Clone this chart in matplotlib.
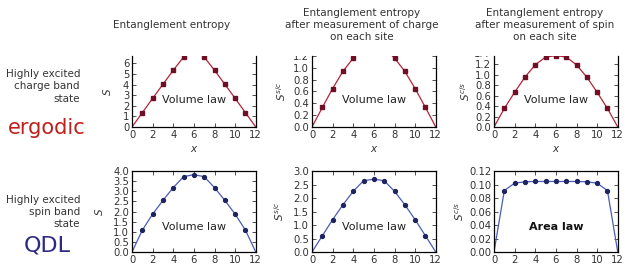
import matplotlib.pyplot as plt
import matplotlib.transforms as mtransforms
import numpy as np

# site positions
x = np.arange(13)

# top row: highly excited charge band state (ergodic)
s_charge = [0, 1.35, 2.7, 4.03, 5.35, 6.6, 7.8, 6.6, 5.35, 4.03, 2.7, 1.35, 0]
ssc_charge = [0, 0.33, 0.65, 0.94, 1.165, 1.33, 1.38, 1.33, 1.165, 0.94, 0.65, 0.33, 0]
scs_charge = [0, 0.355, 0.665, 0.955, 1.19, 1.34, 1.365, 1.34, 1.19, 0.955, 0.665, 0.355, 0]

# bottom row: highly excited spin band state (QDL)
s_spin = [0, 1.08, 1.87, 2.55, 3.18, 3.72, 3.82, 3.72, 3.18, 2.55, 1.87, 1.08, 0]
ssc_spin = [0, 0.60, 1.20, 1.75, 2.25, 2.64, 2.70, 2.64, 2.25, 1.75, 1.20, 0.60, 0]
scs_spin = [0, 0.091, 0.102, 0.104, 0.1045, 0.1045, 0.1045, 0.1045, 0.1045, 0.104, 0.102, 0.091, 0]

col_titles = ["Entanglement entropy",
              "Entanglement entropy\nafter measurement of charge\non each site",
              "Entanglement entropy\nafter measurement of spin\non each site"]
ylabels = [r"$S$", r"$S^{s/c}$", r"$S^{c/s}$"]

red_line, red_mark = "#b5243a", "#6e0f25"
blue_line, blue_mark = "#4a5cb8", "#1e2460"
txt = "#333333"

fig = plt.figure(figsize=(6.25, 2.65), dpi=100)

lefts = [0.2112, 0.4992, 0.7904]
w = 0.198
top_b, top_h = 0.5208, 0.268
bot_b, bot_h = 0.049, 0.3057

top_data = [s_charge, ssc_charge, scs_charge]
top_ylim = [(0, 6.7), (0, 1.2), (0, 1.36)]
top_yticks = [np.arange(0, 8, 1), np.arange(0, 1.41, 0.2), np.arange(0, 1.41, 0.2)]
top_fmt = ["%d", "%.1f", "%.1f"]
top_pad = [7, 4, 2]

bot_data = [s_spin, ssc_spin, scs_spin]
bot_ylim = [(0, 4), (0, 3), (0, 0.12)]
bot_yticks = [np.arange(0, 4.01, 0.5), np.arange(0, 3.01, 0.5), np.arange(0, 0.121, 0.02)]
bot_fmt = ["%.1f", "%.1f", "%.2f"]
bot_pad = [6, 5, 2]


def style(ax):
    ax.tick_params(direction="in", top=True, right=True, labelsize=7.2,
                   length=3, width=0.6, colors=txt, pad=2)
    for sp in ax.spines.values():
        sp.set_linewidth(0.9)
    ax.set_xlim(0, 12)
    ax.set_xticks(np.arange(0, 13, 2))


for i in range(3):
    ax = fig.add_axes([lefts[i], top_b, w, top_h])
    ax.plot(x, top_data[i], color=red_line, lw=0.9, zorder=2, clip_on=True)
    ax.plot(x[1:-1], top_data[i][1:-1], "s", color=red_mark, ms=2.4, zorder=3)
    style(ax)
    ax.set_ylim(*top_ylim[i])
    # the panel is cut off at its top edge; labels above are clipped there
    clip = mtransforms.TransformedBbox(mtransforms.Bbox([[-1, -1], [2, 1]]), ax.transAxes)
    trans = mtransforms.blended_transform_factory(ax.transAxes, ax.transData)
    ticks_in = [v for v in top_yticks[i] if v <= top_ylim[i][1] + 1e-9]
    ax.set_yticks(ticks_in)
    ax.set_yticklabels([top_fmt[i] % v for v in ticks_in])
    for lbl in ax.get_yticklabels():
        lbl.set_clip_box(clip)
        lbl.set_clip_on(True)
    for v in top_yticks[i]:
        if v > top_ylim[i][1] + 1e-9:
            t = ax.text(-0.035, v, top_fmt[i] % v, transform=trans, ha="right",
                        va="center", fontsize=7.2, color=txt)
            t.set_clip_box(clip)
            t.set_clip_on(True)
            break
    ax.spines["top"].set_visible(False)
    ax.tick_params(top=False)
    ax.set_xlabel(r"$x$", fontsize=7.5, color=txt, labelpad=3)
    ax.set_ylabel(ylabels[i], fontsize=7.5, color=txt, labelpad=top_pad[i])
    ax.text(0.5, 0.38, "Volume law", ha="center", va="center",
            fontsize=8, color="#222222", transform=ax.transAxes)

for i in range(3):
    ax = fig.add_axes([lefts[i], bot_b, w, bot_h])
    ax.plot(x, bot_data[i], color=blue_line, lw=0.9, marker="o", ms=2.8,
            mfc=blue_mark, mec=blue_mark, markevery=list(range(1, 12)))
    style(ax)
    ax.set_ylim(*bot_ylim[i])
    ax.set_yticks(bot_yticks[i])
    ax.set_yticklabels([bot_fmt[i] % v for v in bot_yticks[i]])
    ax.set_ylabel(ylabels[i], fontsize=7.5, color=txt, labelpad=bot_pad[i])
    if i < 2:
        ax.text(0.5, 0.31, "Volume law", ha="center", va="center",
                fontsize=8, color="#222222", transform=ax.transAxes)
    else:
        ax.text(0.5, 0.31, "Area law", ha="center", va="center",
                fontsize=8, fontweight="bold", color="#111111", transform=ax.transAxes)

# column headings
fig.text(0.275, 0.905, col_titles[0], ha="center", va="center", fontsize=7.5, color=txt)
fig.text(0.579, 0.905, col_titles[1], ha="center", va="center", fontsize=7.5,
         color=txt, linespacing=1.25)
fig.text(0.872, 0.905, col_titles[2], ha="center", va="center", fontsize=7.5,
         color=txt, linespacing=1.25)

# row labels
fig.text(0.128, 0.675, "Highly excited\ncharge band\nstate", ha="right", va="center",
         fontsize=7.5, color=txt, linespacing=1.3)
fig.text(0.075, 0.517, "ergodic", ha="center", va="center", fontsize=15, color="#c0201c")
fig.text(0.128, 0.20, "Highly excited\nspin band\nstate", ha="right", va="center",
         fontsize=7.5, color=txt, linespacing=1.3)
fig.text(0.076, 0.075, "QDL", ha="center", va="center", fontsize=16, color="#2e2a80")

fig.savefig("out.png", dpi=100)
